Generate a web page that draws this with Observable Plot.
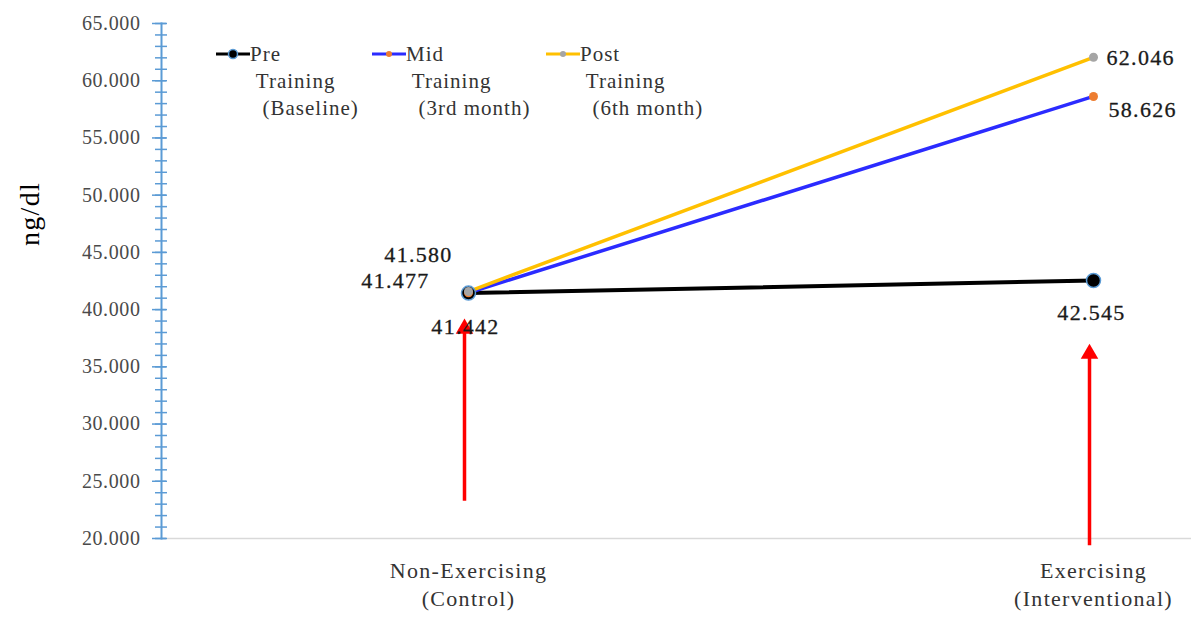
<!DOCTYPE html>
<html>
<head>
<meta charset="utf-8">
<script src="https://cdn.jsdelivr.net/npm/d3@7"></script>
<script src="https://cdn.jsdelivr.net/npm/@observablehq/plot@0.6"></script>
<style>
  html, body { margin: 0; padding: 0; background: #fff; }
  #wrap { position: relative; width: 1191px; height: 634px; font-family: "Liberation Serif", serif; }
  #wrap svg text { letter-spacing: 1.3px; }
  #wrap svg g[aria-label="y-axis tick label"] text { letter-spacing: 0.6px; }
  .leg { position: absolute; top: 41px; color: #333; font-size: 21px; line-height: 27px; letter-spacing: 1px; }
  .leg svg { position: absolute; left: 0; top: 6px; }
  .leg .t { position: absolute; white-space: pre; }
</style>
</head>
<body>
<div id="wrap"></div>
<script>
// ---- data ----
const categories = ["Non-Exercising", "Exercising"];
const categoryLabels = ["Non-Exercising\n(Control)", "Exercising\n(Interventional)"];
const seriesNames = ["Pre Training (Baseline)", "Mid Training (3rd month)", "Post Training (6th month)"];
const preValues = [41.442, 42.545];
const midValues = [41.477, 58.626];
const postValues = [41.580, 62.046];
const yTicks = [20, 25, 30, 35, 40, 45, 50, 55, 60, 65];
const yMinorTicks = d3.range(20, 66, 1);
const arrowFrom = [23.3, 19.4];
const arrowTo = [38.6, 36.4];

// ---- build table ----
const allValues = [preValues, midValues, postValues];
const table = [];
seriesNames.forEach((s, si) => categories.forEach((c, ci) => table.push({series: s, category: c, value: allValues[si][ci]})));
const arrows = categories.map((c, i) => ({category: c, from: arrowFrom[i], to: arrowTo[i]}));

const colors = {"Pre Training (Baseline)": "#000000", "Mid Training (3rd month)": "#2b2bff", "Post Training (6th month)": "#ffc000"};
const blueAxis = "#5b9bd5";
const S = (i) => table.filter(d => d.series === seriesNames[i]);
const pt = (si, ci) => table.filter(d => d.series === seriesNames[si] && d.category === categories[ci]);
const fmt = d => d.value.toFixed(3);
const labelStyle = {fontSize: 22, fill: "#1a1a1a", stroke: "#1a1a1a", strokeWidth: 0.3, text: fmt, x: "category", y: "value"};

const chart = Plot.plot({
  width: 1191,
  height: 634,
  marginLeft: 161,
  marginRight: 0,
  marginTop: 23,
  marginBottom: 96,
  x: {type: "point", domain: categories, range: [468, 1093], padding: 0, axis: null},
  y: {domain: [20, 65], axis: null},
  style: {fontFamily: "Liberation Serif", background: "white", overflow: "visible"},
  marks: [
    Plot.ruleY([20], {stroke: "#d9d9d9", strokeWidth: 1.5}),
    Plot.frame({anchor: "left", stroke: blueAxis, strokeWidth: 2}),
    Plot.axisY(yMinorTicks, {tickSize: 12, dx: 6, tickFormat: () => "", stroke: blueAxis, strokeWidth: 1.5, label: null}),
    Plot.axisY(yTicks, {tickSize: 14, dx: 5, tickPadding: 12, tickFormat: d => d.toFixed(3), stroke: blueAxis, strokeWidth: 1.5, fill: "#4a4a4a", fontSize: 20, label: null}),
    Plot.axisX(categories, {tickSize: 0, tickPadding: 19, tickFormat: (d, i) => categoryLabels[i], fontSize: 22, lineHeight: 1.3, fill: "#333", label: null}),
    Plot.text(["ng/dl"], {frameAnchor: "left", dx: -131, dy: -35, rotate: -90, fontSize: 28, fill: "#000"}),
    // arrows (shaft + filled head)
    Plot.link(arrows, {x1: "category", x2: "category", y1: "from", y2: "to", stroke: "#ff0000", strokeWidth: 3.5, dx: -4}),
    Plot.dot(arrows, {x: "category", y: "to", symbol: "triangle", r: 6.5, fill: "#ff0000", dx: -4, dy: 3}),
    // lines
    Plot.line(S(0), {x: "category", y: "value", stroke: colors[seriesNames[0]], strokeWidth: 4}),
    Plot.line(S(1), {x: "category", y: "value", stroke: colors[seriesNames[1]], strokeWidth: 3.5}),
    Plot.line(S(2), {x: "category", y: "value", stroke: colors[seriesNames[2]], strokeWidth: 3.5}),
    // markers
    Plot.dot(S(0), {x: "category", y: "value", r: 7, fill: "#000", stroke: blueAxis, strokeWidth: 1.5}),
    Plot.dot(S(1), {x: "category", y: "value", r: 4.5, fill: "#ed7d31"}),
    Plot.dot(S(2), {x: "category", y: "value", r: 4.5, fill: "#a5a5a5"}),
    // value labels
    Plot.text(pt(0, 0), {...labelStyle, dx: -3, dy: 34}),
    Plot.text(pt(1, 0), {...labelStyle, dx: -73, dy: -12}),
    Plot.text(pt(2, 0), {...labelStyle, dx: -50, dy: -37}),
    Plot.text(pt(0, 1), {...labelStyle, dx: -2, dy: 32}),
    Plot.text(pt(1, 1), {...labelStyle, textAnchor: "start", dx: 15, dy: 14}),
    Plot.text(pt(2, 1), {...labelStyle, textAnchor: "start", dx: 13, dy: 1})
  ]
});

const wrap = document.getElementById("wrap");
wrap.appendChild(chart);

// ---- legend (HTML overlay) ----
const legendItems = [
  {lines: ["Pre", " Training", "  (Baseline)"], line: colors[seriesNames[0]], dot: "#000", dotStroke: blueAxis, r: 4.5, left: 215},
  {lines: ["Mid", " Training", "  (3rd month)"], line: colors[seriesNames[1]], dot: "#ed7d31", dotStroke: "none", r: 3, left: 371},
  {lines: ["Post", " Training", "  (6th month)"], line: colors[seriesNames[2]], dot: "#a5a5a5", dotStroke: "none", r: 3, left: 545}
];
legendItems.forEach(it => {
  const div = document.createElement("div");
  div.className = "leg";
  div.style.left = it.left + "px";
  div.innerHTML = `<svg width="36" height="14"><line x1="1" x2="35" y1="7" y2="7" stroke="${it.line}" stroke-width="3"/><circle cx="18" cy="7" r="${it.r}" fill="${it.dot}" stroke="${it.dotStroke}" stroke-width="1.5"/></svg>` +
    it.lines.map((l, i) => `<div class="t" style="left:35px;top:${i * 27}px">${l}</div>`).join("");
  wrap.appendChild(div);
});
</script>
</body>
</html>
